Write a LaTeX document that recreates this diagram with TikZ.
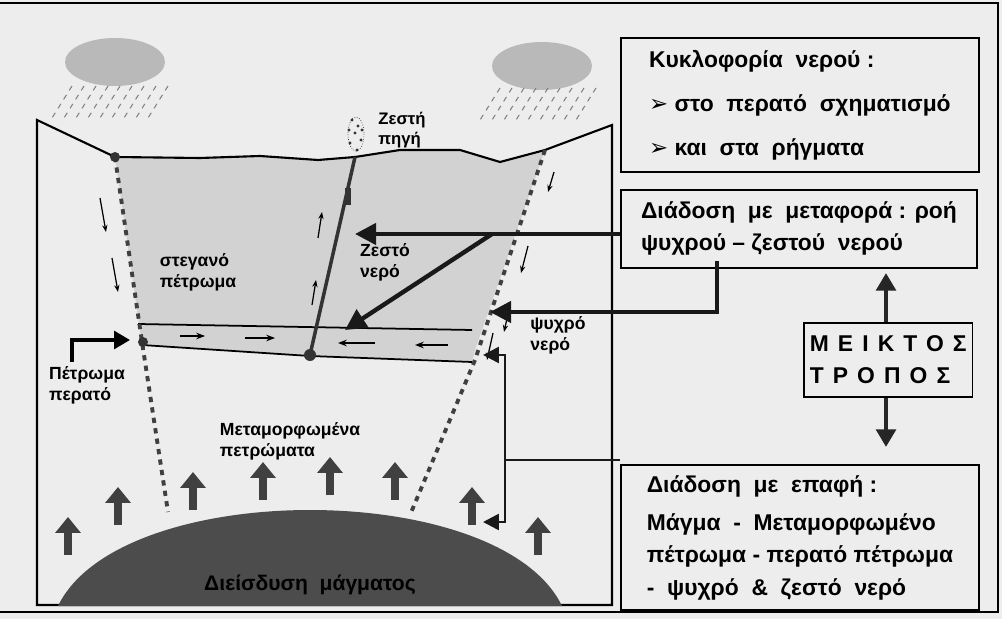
\documentclass[tikz,border=0pt]{standalone}
\usepackage{fontspec}
\setmainfont{Liberation Sans}
\newfontfamily\symfont{DejaVu Sans}
\usetikzlibrary{arrows.meta}

\begin{document}
\begin{tikzpicture}[x=0.2mm, y=-0.2mm, font=\bfseries]
    \fill[gray!14] (0, 0) rectangle (1002, 619);
    \useasboundingbox (0, 0) rectangle (1002, 619);
    \draw[line width = 1pt] (0, 3) -- (998, 3) -- (998, 612) -- (0, 612);
    % clouds and rain
    \fill[gray!55] (115, 62) ellipse (50 and 24);
    \fill[gray!55] (542, 66) ellipse (50 and 24);
    \foreach \x in {60, 72, ..., 156} \draw[gray, dashed, line width = 0.6pt] (\x+12, 86) -- (\x-8, 118);
    \foreach \x in {488, 500, ..., 584} \draw[gray, dashed, line width = 0.6pt] (\x+12, 88) -- (\x-8, 120);
    % shaded block and layer
    \fill[gray!35] (115, 157) -- (200, 158) -- (260, 156) -- (318, 160) -- (355, 157) -- (400, 150) -- (460, 150) -- (500, 162) -- (545, 150) -- (475, 350) -- (472, 362) -- (310, 356) -- (142, 345) -- cycle;
    \draw[line width = 1pt] (138, 324) -- (472, 330);
    \draw[line width = 1pt] (142, 345) -- (310, 356) -- (472, 362);
    % ground and frame
    \draw[line width = 1.2pt] (37, 605) -- (37, 120) -- (115, 157) -- (200, 158) -- (260, 156) -- (318, 160) -- (355, 157) -- (400, 150) -- (460, 150) -- (500, 162) -- (545, 150) -- (612, 125) -- (612, 605) -- cycle;
    % faults
    \draw[gray!50!black, line width = 2.2pt, dashed] (115, 157) -- (142, 342) -- (168, 512);
    \draw[gray!50!black, line width = 2.2pt, dashed] (545, 150) -- (475, 360) -- (410, 515);
    \draw[gray!40!black, line width = 2pt] (310, 355) -- (355, 157);
    \fill[black!80] (345, 188) rectangle (351, 205);
    \fill[black!80] (115, 157) circle (5);
    \fill[black!80] (143, 342) circle (5);
    \fill[black!80] (310, 355) circle (6);
    % magma
    \fill[gray!60!black] (58, 606) .. controls (120, 478) and (500, 478) .. (562, 606) -- cycle;
    \node[font = \bfseries\fontsize{12}{14}\selectfont] (Magma) at (310, 585) {Διείσδυση\ \ μάγματος};
    \foreach \x/\y in {68/555, 118/525, 193/510, 263/500, 330/495, 395/500, 472/525, 538/555}
      \draw[gray!50!black, line width = 4pt, -{Triangle[width = 14pt, length = 9pt]}] (\x, \y) -- (\x, \y-38);
    % hot spring
    \foreach \a/\b in {352/120, 358/126, 355/133, 361/140, 350/143, 357/150, 362/130, 349/130}
      \fill[gray!40!black] (\a, \b) circle (1.6);
    \draw[gray!40!black, densely dotted] (356, 134) ellipse (8 and 17);
    % small flow arrows
    \foreach \a/\b/\c/\d in {100/198/106/232, 112/258/118/292, 318/238/322/212, 312/305/316/280, 554/172/548/192, 528/246/521/273, 510/305/504/332, 493/333/487/360}
      \draw[-{Stealth[length = 4pt]}, line width = 0.7pt] (\a, \b) -- (\c, \d);
    \foreach \a/\c/\b in {180/205/336, 245/275/338, 375/338/343, 448/415/345}
      \draw[-{Stealth[length = 5pt]}, line width = 0.7pt] (\a, \b) -- (\c, \b);
    % labels on the section
    \node[font = \bfseries\fontsize{9.5}{11}\selectfont, align = left] (Hot Spring) at (402, 130) {Ζεστή\\πηγή};
    \node[font = \bfseries\fontsize{10}{12}\selectfont, align = left] (Tight Rock) at (198, 272) {στεγανό\\πέτρωμα};
    \node[font = \bfseries\fontsize{10}{12}\selectfont, align = left] (Hot Water) at (385, 262) {Ζεστό\\νερό};
    \node[font = \bfseries\fontsize{10}{12}\selectfont, align = left] (Cold Water) at (558, 335) {ψυχρό\\νερό};
    \node[font = \bfseries\fontsize{10}{12}\selectfont, align = left] (Permeable) at (87, 385) {Πέτρωμα\\περατό};
    \node[font = \bfseries\fontsize{10}{12}\selectfont, align = left] (Metamorphic) at (290, 441) {Μεταμορφωμένα\\πετρώματα};
    \coordinate (Permeable In) at (130, 340);
    \draw[line width = 2pt, -{Triangle[width = 10pt, length = 9pt]}] (72, 362) -- (72, 340) -- (Permeable In);
    % right boxes
    \node[draw, line width = 1pt, anchor = north west, minimum width = 358*0.2mm, minimum height = 134*0.2mm, align = left, inner sep = 7pt, font = \bfseries\fontsize{13}{25}\selectfont] (Circulation) at (620, 37)
      {Κυκλοφορία\ \ νερού :\\{\symfont ➢} στο\ \ περατό\ \ σχηματισμό\\{\symfont ➢} και\ \ στα\ \ ρήγματα};
    \node[draw, line width = 1pt, anchor = north west, minimum width = 356*0.2mm, minimum height = 72*0.2mm, align = left, inner sep = 7pt, font = \bfseries\fontsize{13}{18}\selectfont] (Convection) at (620, 189)
      {Διάδοση\ \ με\ \ μεταφορά : ροή\\ψυχρού -- ζεστού\ \ νερού};
    \node[draw, line width = 1pt, anchor = north west, minimum width = 162*0.2mm, minimum height = 74*0.2mm, align = left, font = \bfseries\fontsize{13}{18}\selectfont\addfontfeature{LetterSpace=40}] (Mixed) at (803, 322)
      {ΜΕΙΚΤΟΣ\\ΤΡΟΠΟΣ};
    \node[draw, line width = 1pt, anchor = north west, minimum width = 358*0.2mm, minimum height = 141*0.2mm, align = left, inner sep = 6pt, font = \bfseries\fontsize{13}{18.5}\selectfont] (Contact) at (620, 464)
      {Διάδοση\ \ με\ \ επαφή :\\[3pt]Μάγμα\ \ -\ \ Μεταμορφωμένο\\πέτρωμα - περατό πέτρωμα\\-\ \ ψυχρό\ \ \&\ \ ζεστό\ \ νερό};
    \coordinate (Mixed Up) at (886, 273);
    \coordinate (Mixed Down) at (886, 447);
    \draw[gray!30!black, line width = 2.5pt, -{Triangle[width = 11pt, length = 10pt]}] (Mixed.north -| Mixed Up) -- (Mixed Up);
    \draw[gray!30!black, line width = 2.5pt, -{Triangle[width = 11pt, length = 10pt]}] (Mixed.south -| Mixed Down) -- (Mixed Down);
    % connectors from the boxes
    \coordinate (Fault Top) at (355, 234);
    \coordinate (Block Low) at (345, 330);
    \coordinate (Cold Fault) at (490, 312);
    \coordinate (Layer End) at (483, 355);
    \coordinate (Magma Edge) at (483, 522);
    \draw[gray!20!black, line width = 2.5pt, -{Triangle[width = 12pt, length = 12pt]}] (Convection.west |- 0, 234) -- (Fault Top);
    \draw[gray!20!black, line width = 2.5pt, -{Triangle[width = 12pt, length = 12pt]}] (492, 234) -- (Block Low);
    \draw[gray!20!black, line width = 2.5pt, -{Triangle[width = 12pt, length = 12pt]}] (717, 261) -- (717, 312) -- (Cold Fault);
    \draw[gray!20!black, line width = 1.5pt] (Contact.west |- 0, 460) -- (505, 460);
    \draw[gray!20!black, line width = 1.5pt, -{Triangle[width = 9pt, length = 9pt]}] (505, 460) -- (505, 355) -- (Layer End);
    \draw[gray!20!black, line width = 1.5pt, -{Triangle[width = 9pt, length = 9pt]}] (505, 460) -- (505, 522) -- (Magma Edge);
  \end{tikzpicture}
\end{document}
